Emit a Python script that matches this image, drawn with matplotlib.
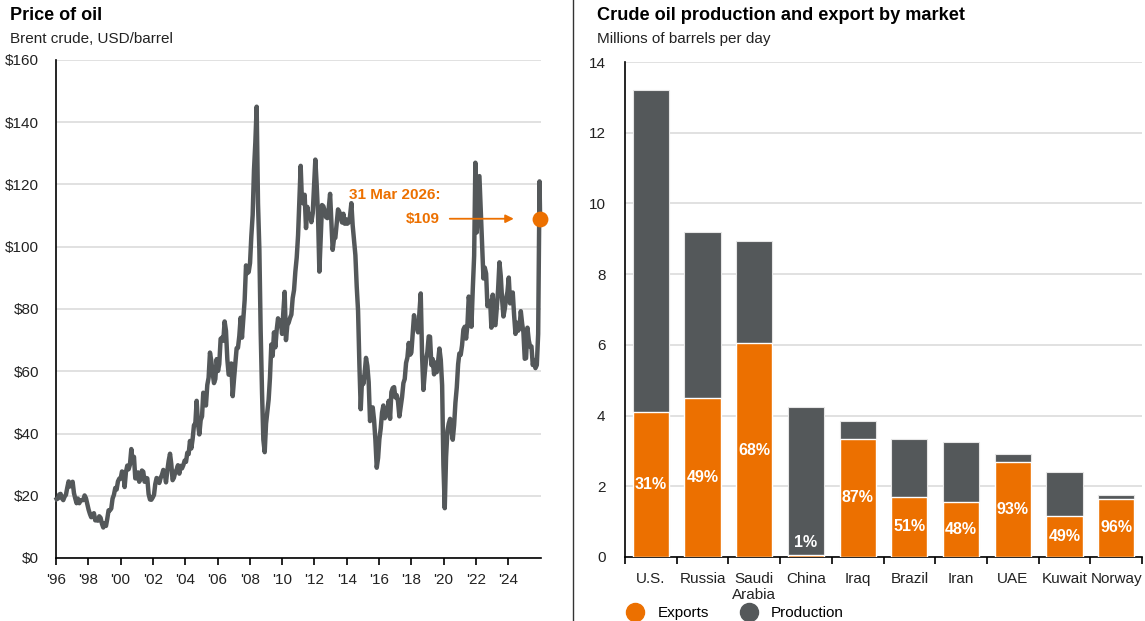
import matplotlib
matplotlib.use("Agg")
import matplotlib.pyplot as plt
from matplotlib.lines import Line2D
import numpy as np
import pandas as pd

plt.rcParams['font.family'] = ['Liberation Sans', 'DejaVu Sans']

ORANGE = '#EC7000'
DARK = '#54585A'
GRID = '#DCDCDC'
TEXT = '#222222'

# ---------------- Data: Brent crude, monthly (USD/barrel) ----------------
price_1996_2025 = [
    18.9, 19.1, 20.4, 20.6, 19.2, 18.6, 19.7, 20.3, 22.6, 24.6, 23.0, 23.7,   # 1996
    24.5, 20.8, 19.2, 17.6, 19.1, 17.6, 18.5, 18.6, 18.6, 20.1, 19.2, 17.4,   # 1997
    15.5, 14.1, 13.1, 13.4, 14.4, 12.1, 12.1, 12.0, 13.4, 12.9, 11.0, 9.8,    # 1998
    11.1, 10.3, 12.5, 15.3, 15.3, 15.9, 19.1, 20.3, 22.5, 22.0, 24.6, 25.5,   # 1999
    25.5, 27.8, 27.5, 22.8, 27.6, 29.7, 28.5, 30.0, 35.0, 31.1, 32.5, 25.6,   # 2000
    25.6, 27.5, 24.5, 25.6, 28.1, 27.7, 24.5, 25.7, 25.6, 20.5, 18.8, 18.7,   # 2001
    19.4, 20.3, 23.7, 25.7, 25.4, 24.1, 25.7, 26.7, 28.3, 27.5, 24.3, 28.0,   # 2002
    31.2, 33.5, 30.3, 25.0, 25.8, 27.6, 28.4, 29.8, 27.1, 29.6, 28.8, 29.8,   # 2003
    31.3, 30.9, 33.8, 33.4, 37.6, 35.2, 38.2, 42.7, 43.2, 50.5, 43.1, 39.7,   # 2004
    44.3, 45.5, 53.1, 51.9, 49.0, 55.6, 57.9, 66.0, 63.2, 59.4, 56.2, 57.5,   # 2005
    63.9, 60.1, 62.3, 70.4, 70.8, 69.8, 76.0, 73.0, 63.8, 58.9, 59.1, 62.5,   # 2006
    52.0, 57.6, 62.1, 67.4, 67.5, 71.3, 77.2, 70.8, 77.1, 82.9, 94.0, 91.5,   # 2007
    91.9, 94.8, 103.3, 110.2, 124.6, 133.5, 145.0, 113.9, 99.1, 72.8, 53.2, 38.0,  # 2008
    34.0, 43.2, 47.0, 50.9, 57.9, 68.6, 64.9, 72.5, 67.7, 73.2, 77.0, 74.7,   # 2009
    76.2, 72.0, 78.8, 85.5, 70.0, 74.8, 75.6, 77.1, 78.2, 83.5, 86.1, 92.0,   # 2010
    96.5, 103.7, 114.6, 126.0, 114.5, 113.9, 116.7, 106.0, 112.8, 109.6, 110.5, 107.9,  # 2011
    110.7, 119.3, 128.0, 119.8, 110.3, 92.0, 102.6, 113.4, 113.0, 111.5, 109.5, 109.2,  # 2012
    112.3, 117.0, 108.5, 99.0, 102.6, 102.9, 107.4, 112.0, 111.2, 109.5, 107.8, 110.6,  # 2013
    107.4, 108.8, 107.4, 107.8, 109.7, 114.0, 106.9, 101.9, 97.3, 87.3, 79.4, 62.3,   # 2014
    47.8, 58.1, 55.9, 59.5, 64.3, 61.7, 56.5, 44.0, 47.6, 48.4, 44.3, 38.0,   # 2015
    29.0, 32.2, 38.2, 41.6, 46.7, 49.0, 44.9, 45.8, 46.6, 50.5, 44.7, 53.3,   # 2016
    54.6, 54.9, 51.6, 52.3, 50.3, 45.5, 48.5, 51.7, 56.2, 57.5, 62.7, 64.4,   # 2017
    69.1, 65.3, 66.0, 72.1, 78.0, 74.4, 74.3, 72.5, 78.9, 85.0, 64.8, 54.0,   # 2018
    59.4, 64.0, 66.1, 71.2, 71.1, 62.0, 63.9, 59.0, 62.8, 59.7, 63.2, 67.3,   # 2019
    63.7, 55.5, 30.0, 16.0, 32.4, 40.8, 43.2, 44.7, 40.9, 38.0, 42.7, 49.9,   # 2020
    54.8, 62.3, 65.7, 65.3, 68.3, 73.4, 74.3, 70.5, 74.9, 84.0, 80.8, 74.3,   # 2021
    86.5, 97.1, 127.0, 104.6, 113.3, 122.7, 111.9, 100.5, 89.8, 93.3, 91.4, 80.9,  # 2022
    82.5, 82.6, 74.0, 84.6, 75.5, 74.8, 80.1, 86.2, 95.0, 90.6, 82.9, 77.6,   # 2023
    80.1, 83.5, 85.4, 90.1, 81.8, 82.6, 85.3, 78.0, 72.0, 75.6, 73.0, 73.9,   # 2024
    79.3, 75.2, 72.6, 64.0, 64.2, 74.0, 70.0, 67.9, 68.0, 62.0, 63.6, 61.0,   # 2025
]
price_2026 = [62.0, 72.0, 121.0, 109.0]
dates_2026 = ['2026-01-15', '2026-02-15', '2026-03-18', '2026-03-31']
last_label = '31 Mar 2026:'
last_value = 109

years_ticks = list(range(1996, 2026, 2))
year_labels = ["'" + str(y)[2:] for y in years_ticks]
price_ticks = [0, 20, 40, 60, 80, 100, 120, 140, 160]

# ---------------- Data: production and exports ----------------
countries = ['U.S.', 'Russia', 'Saudi\nArabia', 'China', 'Iraq', 'Brazil',
             'Iran', 'UAE', 'Kuwait', 'Norway']
production = [13.2, 9.2, 8.95, 4.25, 3.85, 3.35, 3.25, 2.9, 2.4, 1.75]
exports = [4.1, 4.5, 6.05, 0.05, 3.35, 1.7, 1.55, 2.7, 1.15, 1.65]
export_share = ['31%', '49%', '68%', '1%', '87%', '51%', '48%', '93%', '49%', '96%']

# ---------------- Build time axis ----------------
def to_year(ts):
    ts = pd.Timestamp(ts)
    start = pd.Timestamp(year=ts.year, month=1, day=1)
    end = pd.Timestamp(year=ts.year + 1, month=1, day=1)
    return ts.year + (ts - start) / (end - start)

monthly = pd.date_range('1996-01-01', periods=len(price_1996_2025), freq='MS') + pd.Timedelta(days=14)
x_dates = [to_year(d) for d in monthly] + [to_year(d) for d in dates_2026]
y_price = price_1996_2025 + price_2026

fig = plt.figure(figsize=(11.45, 6.21), dpi=100)

# ---------------- Left chart ----------------
axL = fig.add_axes([56 / 1145, 1 - 558 / 621, (541 - 56) / 1145, (558 - 60) / 621])
axL.plot(x_dates, y_price, color=DARK, lw=3.2, solid_joinstyle='round', zorder=3, clip_on=False)
axL.scatter([x_dates[-1]], [last_value], s=130, color=ORANGE, zorder=5, lw=0, clip_on=False)
axL.set_xlim(1996, 2026.3)
axL.set_ylim(0, 160)
axL.set_yticks(price_ticks)
axL.set_yticklabels(['$' + str(v) for v in price_ticks])
tick_scale = 1.009  # tick spacing of the original layout
axL.set_xticks([1996 + (y - 1996) * tick_scale for y in years_ticks])
axL.set_xticklabels(year_labels)
axL.grid(axis='y', color=GRID, lw=1.2, zorder=0)
axL.set_axisbelow(True)
for s in ['top', 'right']:
    axL.spines[s].set_visible(False)
axL.spines['left'].set_color('black')
axL.spines['bottom'].set_color('black')
axL.spines['left'].set_linewidth(1.2)
axL.spines['bottom'].set_linewidth(1.2)
axL.tick_params(axis='y', length=0, pad=12, labelsize=11, labelcolor=TEXT)
axL.tick_params(axis='x', length=5, width=1.2, pad=6, labelsize=11, labelcolor=TEXT, direction='out')

axL.annotate('', xy=(2024.6, last_value), xytext=(2020.6, last_value),
             arrowprops=dict(arrowstyle='-|>', color=ORANGE, lw=1.3, mutation_scale=12,
                             shrinkA=0, shrinkB=0))
axL.text(2020.0, 116.5, last_label, color=ORANGE, fontsize=11, fontweight='bold',
         ha='right', va='center')
axL.text(2020.0, 109, '$' + str(last_value), color=ORANGE, fontsize=11, fontweight='bold',
         ha='right', va='center')

fig.text(10 / 1145, 1 - 7 / 621, 'Price of oil', fontsize=13, fontweight='bold',
         color='black', ha='left', va='top')
fig.text(10 / 1145, 1 - 32 / 621, 'Brent crude, USD/barrel', fontsize=11,
         color=TEXT, ha='left', va='top')

# ---------------- Separator ----------------
fig.add_artist(Line2D([573 / 1145, 573 / 1145], [0, 1], color='#333333', lw=1.0))

# ---------------- Right chart ----------------
axR = fig.add_axes([625 / 1145, 1 - 557 / 621, (1142 - 625) / 1145, (557 - 62) / 621])
xpos = np.arange(len(countries))
axR.bar(xpos, production, width=0.7, color=DARK, edgecolor='#E6E6E6', lw=0.8, zorder=2)
axR.bar(xpos, exports, width=0.7, color=ORANGE, edgecolor='white', lw=1.0, zorder=3)
for i, (e, lab) in enumerate(zip(exports, export_share)):
    ypos = e / 2 if e > 0.5 else 0.4
    axR.text(i, ypos, lab, color='white', fontsize=11.5, fontweight='bold',
             ha='center', va='center', zorder=4)
axR.set_xlim(-0.5, len(countries) - 0.5)
axR.set_ylim(0, 14)
axR.set_yticks(range(0, 15, 2))
axR.set_xticks(xpos)
axR.set_xticklabels(countries)
axR.set_xticks(np.arange(-0.5, len(countries), 1.0), minor=True)
axR.tick_params(axis='x', which='major', length=0, pad=11, labelsize=11, labelcolor=TEXT)
axR.tick_params(axis='x', which='minor', length=5, width=1.2, direction='out')
axR.tick_params(axis='y', length=0, pad=14, labelsize=11, labelcolor=TEXT)
axR.grid(axis='y', color=GRID, lw=1.2, zorder=0)
axR.set_axisbelow(True)
for s in ['top', 'right']:
    axR.spines[s].set_visible(False)
axR.spines['left'].set_linewidth(1.2)
axR.spines['bottom'].set_linewidth(1.2)

fig.text(597 / 1145, 1 - 7 / 621, 'Crude oil production and export by market', fontsize=13.1,
         fontweight='bold', color='black', ha='left', va='top')
fig.text(597 / 1145, 1 - 32 / 621, 'Millions of barrels per day', fontsize=11,
         color=TEXT, ha='left', va='top')

handles = [Line2D([], [], marker='o', ls='', color=ORANGE, markersize=13, label='Exports'),
           Line2D([], [], marker='o', ls='', color=DARK, markersize=13, label='Production')]
fig.legend(handles=handles, loc='center left', bbox_to_anchor=(620 / 1145, 1 - 613 / 621),
           ncol=2, frameon=False, fontsize=11, handletextpad=0.45, columnspacing=1.6,
           borderaxespad=0, borderpad=0)

fig.savefig('out.png', dpi=100, facecolor='white')
